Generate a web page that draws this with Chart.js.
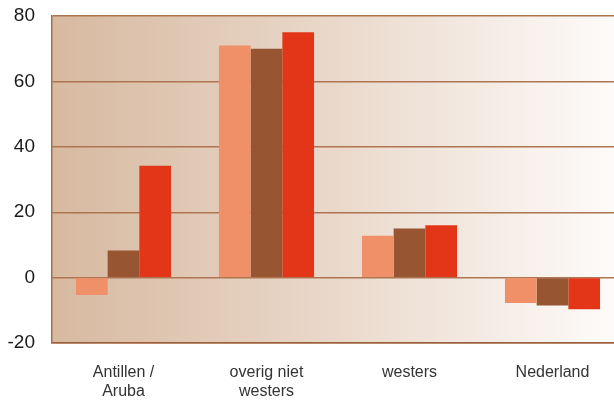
<!DOCTYPE html>
<html>
<head>
<meta charset="utf-8">
<script src="https://cdn.jsdelivr.net/npm/chart.js@4"></script>
<style>
  html, body { margin: 0; padding: 0; background: #fff; overflow: hidden; }
  #wrap { width: 624px; height: 400px; }
</style>
</head>
<body>
<div id="wrap"><canvas id="chart"></canvas></div>
<script>
// Data
const categories = [["Antillen /", "Aruba"], ["overig niet", "westers"], "westers", "Nederland"];
const serie1 = [-5.3, 71, 12.8, -7.8];
const serie2 = [8.3, 70, 15, -8.5];
const serie3 = [34.2, 75, 16, -9.7];
const yTicks = [-20, 0, 20, 40, 60, 80];

// gradient background in plot area
const bgPlugin = {
  id: "bgGradient",
  beforeDraw(chart) {
    const { ctx, chartArea: a } = chart;
    const g = ctx.createLinearGradient(a.left, 0, a.right, 0);
    g.addColorStop(0, "#d7b9a0");
    g.addColorStop(0.5, "#ead9cb");
    g.addColorStop(1, "#fefcfb");
    ctx.save();
    ctx.fillStyle = g;
    ctx.fillRect(a.left, a.top, a.right - a.left, a.bottom - a.top);
    ctx.restore();
  }
};

const chart = new Chart(document.getElementById("chart"), {
  type: "bar",
  data: {
    labels: categories,
    datasets: [
      { data: serie1, backgroundColor: "#f09068" },
      { data: serie2, backgroundColor: "#975532" },
      { data: serie3, backgroundColor: "#e33619" },
    ],
  },
  options: {
    responsive: true,
    maintainAspectRatio: false,
    animation: false,
    layout: { padding: { top: 16, right: 0, left: 0, bottom: 0 } },
    plugins: {
      legend: { display: false },
      tooltip: { enabled: false },
    },
    datasets: {
      bar: { categoryPercentage: 0.665, barPercentage: 1.0 }
    },
    scales: {
      x: {
        grid: { display: false, drawTicks: false },
        border: { display: true, color: "#9c5e3a", width: 1.5 },
        ticks: {
          color: "#333",
          font: { family: "Liberation Sans", size: 16, lineHeight: 1.2 },
          padding: 20,
          maxRotation: 0,
        },
        afterFit(scale) { scale.height = 57; },
      },
      y: {
        min: -20,
        max: 80,
        afterBuildTicks(scale) { scale.ticks = yTicks.map(v => ({ value: v })); },
        grid: { color: "#ad7552", lineWidth: 1.4, drawTicks: false },
        border: { display: true, color: "#a8683f", width: 1.4 },
        ticks: {
          color: "#1a1a1a",
          font: { family: "Liberation Sans", size: 19 },
          padding: 17,
        },
        afterFit(scale) {
          scale.width = 52;
          scale.paddingTop = 0;
          scale.paddingBottom = 0;
        },
      },
    },
  },
  plugins: [bgPlugin],
});
</script>
</body>
</html>
